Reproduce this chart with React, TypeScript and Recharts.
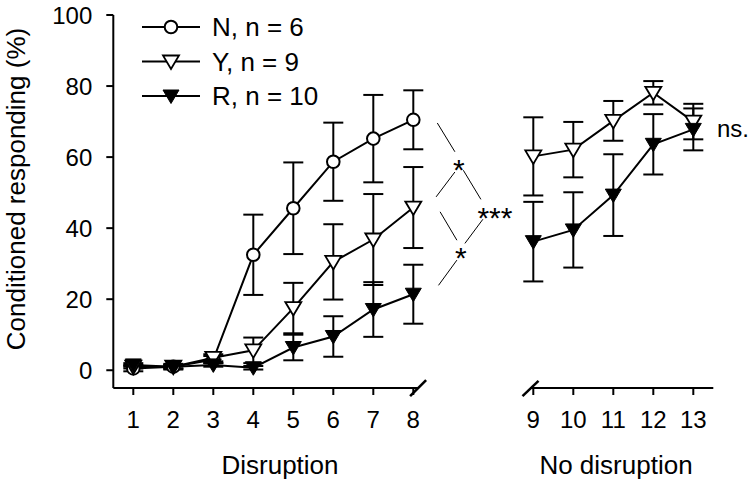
import React from "react";
import {
  ComposedChart,
  Line,
  XAxis,
  YAxis,
  ErrorBar,
  ReferenceLine,
  ReferenceDot,
} from "recharts";

// sessions
const disruptionSessions = [1, 2, 3, 4, 5, 6, 7, 8];
const noDisruptionSessions = [9, 10, 11, 12, 13];

// group N (only tested in the disruption phase)
const nMean = [0.5, 1, 3, 32.5, 45.6, 58.7, 65.2, 70.5];
const nErr = [0.8, 0.8, 1, 11.3, 12.9, 11, 12.3, 8.3];

// group Y
const yMeanDisruption = [1, 1, 3.5, 5.6, 17.5, 30.5, 36.8, 45.8];
const yErrDisruption = [0.5, 0.5, 1, 3.6, 7.1, 10.6, 12.8, 11.4];
const yMeanNoDisruption = [60.2, 62.1, 70.2, 78.1, 70.0];
const yErrNoDisruption = [11, 7.8, 5.6, 3.3, 5];

// group R
const rMeanDisruption = [1.5, 1, 1.5, 0.7, 6.4, 9.5, 17.1, 21.4];
const rErrDisruption = [0.5, 0.5, 0.5, 0.5, 3.6, 5.7, 7.7, 8.3];
const rMeanNoDisruption = [36.2, 39.5, 49.3, 63.6, 67.8];
const rErrNoDisruption = [11.2, 10.6, 11.5, 8.5, 5.9];

const yTicks = [0, 20, 40, 60, 80, 100];

// empty space left on the x axis between the two phases
const GAP = 2;

const leftRows = disruptionSessions.map((s, i) => ({
  x: s,
  n: nMean[i],
  nErr: nErr[i],
  y: yMeanDisruption[i],
  yErr: yErrDisruption[i],
  r: rMeanDisruption[i],
  rErr: rErrDisruption[i],
}));

const rightRows = noDisruptionSessions.map((s, i) => ({
  x: s + GAP,
  y: yMeanNoDisruption[i],
  yErr: yErrNoDisruption[i],
  r: rMeanNoDisruption[i],
  rErr: rErrNoDisruption[i],
}));

const xTicks = [...leftRows.map((d) => d.x), ...rightRows.map((d) => d.x)];
const xLabel = (v: number) => String(v > 8 ? v - GAP : v);

// significance brackets between session 8 and 9, in data units
const brackets = [
  [8.6, 69.6, 9.04, 61.5],
  [9.04, 55.8, 8.57, 48.8],
  [9.25, 56.3, 9.69, 48.1],
  [8.67, 44.6, 9.09, 36.6],
  [9.74, 42.5, 9.29, 35.7],
  [9.09, 31, 8.63, 23.9],
];
const sigLabels = [
  { x: 9.14, y: 56.5, text: "*" },
  { x: 10.04, y: 43.1, text: "***" },
  { x: 9.19, y: 31.9, text: "*" },
];

const FONT = "'Liberation Sans', Arial, sans-serif";

const OpenCircle = ({ cx, cy }: any) => (
  <circle cx={cx} cy={cy} r={6.3} fill="#fff" stroke="#000" strokeWidth={2} />
);
const DownTri = ({ cx, cy, filled }: any) => (
  <polygon
    points={`${cx - 8},${cy - 6} ${cx + 8},${cy - 6} ${cx},${cy + 7.5}`}
    fill={filled ? "#000" : "#fff"}
    stroke="#000"
    strokeWidth={filled ? 1 : 1.8}
    strokeLinejoin="miter"
  />
);

const circleDot = (p: any) => <OpenCircle key={p.index} cx={p.cx} cy={p.cy} />;
const openTriDot = (p: any) => <DownTri key={p.index} cx={p.cx} cy={p.cy} />;
const filledTriDot = (p: any) => (
  <DownTri key={p.index} cx={p.cx} cy={p.cy} filled />
);

const legendItems = [
  { label: "N, n = 6", kind: "circle" },
  { label: "Y, n = 9", kind: "open" },
  { label: "R, n = 10", kind: "filled" },
];

function LegendBox() {
  return (
    <g>
      {legendItems.map((it, i) => {
        const cy = 27 + i * 34.5;
        return (
          <g key={it.label}>
            <line x1={142} x2={200} y1={cy} y2={cy} stroke="#000" strokeWidth={2} />
            {it.kind === "circle" ? (
              <OpenCircle cx={171} cy={cy} />
            ) : (
              <DownTri cx={171} cy={cy} filled={it.kind === "filled"} />
            )}
            <text x={212} y={cy} dy="0.36em" fontSize={26} fill="#000">
              {it.label}
            </text>
          </g>
        );
      })}
    </g>
  );
}

const errProps = { width: 10, strokeWidth: 2, stroke: "#000" };

export default function App() {
  return (
    <div
      style={{
        position: "absolute",
        left: 0,
        top: 0,
        width: 756,
        height: 488,
        background: "#fff",
        fontFamily: FONT,
      }}
    >
      <ComposedChart
        width={756}
        height={488}
        margin={{ top: 15, right: 42.7, left: 33.3, bottom: 40 }}
      >
        <XAxis
          dataKey="x"
          type="number"
          domain={[0.5, 15.5]}
          ticks={xTicks}
          tickFormatter={xLabel}
          axisLine={false}
          tickLine={{ stroke: "#000", strokeWidth: 2 }}
          tickSize={7}
          tickMargin={16}
          height={60}
          interval={0}
          tick={{ fontSize: 24, fill: "#000" }}
          allowDataOverflow
        />
        <YAxis
          type="number"
          domain={[-5, 100]}
          ticks={yTicks}
          width={80}
          axisLine={{ stroke: "#000", strokeWidth: 2 }}
          tickLine={{ stroke: "#000", strokeWidth: 2 }}
          tickSize={7}
          tickMargin={14}
          tick={{ fontSize: 24, fill: "#000" }}
          interval={0}
          allowDataOverflow
        />

        {/* broken x axis */}
        <ReferenceLine
          segment={[{ x: 0.5, y: -5 }, { x: 8.12, y: -5 }]}
          stroke="#000"
          strokeWidth={2}
          ifOverflow="visible"
        />
        <ReferenceLine
          segment={[{ x: 10.92, y: -5 }, { x: 15.5, y: -5 }]}
          stroke="#000"
          strokeWidth={2}
          ifOverflow="visible"
        />
        <ReferenceLine
          segment={[{ x: 7.92, y: -7.3 }, { x: 8.32, y: -2.8 }]}
          stroke="#000"
          strokeWidth={2.5}
          ifOverflow="visible"
        />
        <ReferenceLine
          segment={[{ x: 10.73, y: -7.3 }, { x: 11.13, y: -3 }]}
          stroke="#000"
          strokeWidth={2.5}
          ifOverflow="visible"
        />

        {brackets.map((b, i) => (
          <ReferenceLine
            key={`b${i}`}
            segment={[{ x: b[0], y: b[1] }, { x: b[2], y: b[3] }]}
            stroke="#000"
            strokeWidth={1}
            ifOverflow="visible"
          />
        ))}
        {sigLabels.map((s, i) => (
          <ReferenceDot
            key={`s${i}`}
            x={s.x}
            y={s.y}
            r={0}
            fill="none"
            stroke="none"
            ifOverflow="visible"
            label={{ value: s.text, position: "center", fontSize: 30, fill: "#000" }}
          />
        ))}
        <ReferenceDot
          x={15.99}
          y={68.1}
          r={0}
          fill="none"
          stroke="none"
          ifOverflow="visible"
          label={{ value: "ns.", position: "center", fontSize: 24, fill: "#000" }}
        />

        <Line
          data={leftRows}
          dataKey="n"
          stroke="#000"
          strokeWidth={2}
          dot={circleDot}
          activeDot={false}
          isAnimationActive={false}
        >
          <ErrorBar dataKey="nErr" direction="y" {...errProps} />
        </Line>
        <Line
          data={leftRows}
          dataKey="y"
          stroke="#000"
          strokeWidth={2}
          dot={openTriDot}
          activeDot={false}
          isAnimationActive={false}
        >
          <ErrorBar dataKey="yErr" direction="y" {...errProps} />
        </Line>
        <Line
          data={leftRows}
          dataKey="r"
          stroke="#000"
          strokeWidth={2}
          dot={filledTriDot}
          activeDot={false}
          isAnimationActive={false}
        >
          <ErrorBar dataKey="rErr" direction="y" {...errProps} />
        </Line>
        <Line
          data={rightRows}
          dataKey="y"
          stroke="#000"
          strokeWidth={2}
          dot={openTriDot}
          activeDot={false}
          isAnimationActive={false}
        >
          <ErrorBar dataKey="yErr" direction="y" {...errProps} />
        </Line>
        <Line
          data={rightRows}
          dataKey="r"
          stroke="#000"
          strokeWidth={2}
          dot={filledTriDot}
          activeDot={false}
          isAnimationActive={false}
        >
          <ErrorBar dataKey="rErr" direction="y" {...errProps} />
        </Line>

        <LegendBox />
        <text
          transform="translate(25,189) rotate(-90)"
          textAnchor="middle"
          fontSize={26}
          fill="#000"
        >
          Conditioned responding (%)
        </text>
        <text x={280} y={474} textAnchor="middle" fontSize={26} fill="#000">
          Disruption
        </text>
        <text x={616} y={474} textAnchor="middle" fontSize={26} fill="#000">
          No disruption
        </text>
      </ComposedChart>
    </div>
  );
}
